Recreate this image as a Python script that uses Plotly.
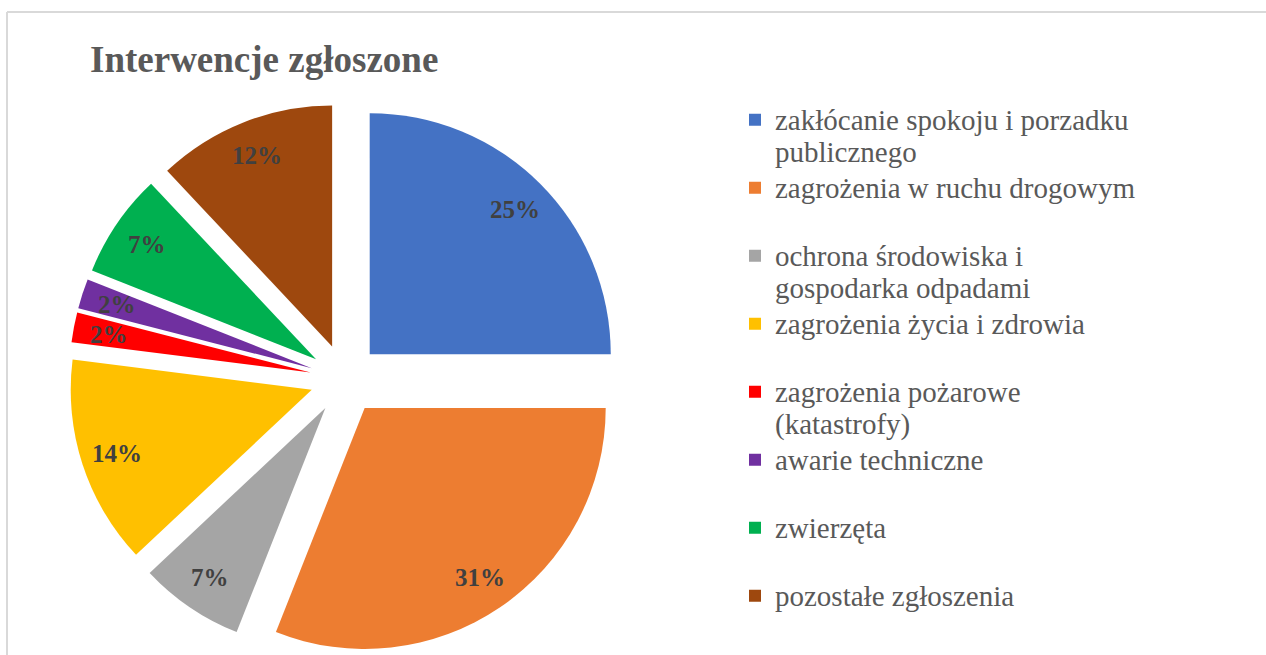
import math
import plotly.graph_objects as go

# data
names = [
    ["zakłócanie spokoju i porzadku", "publicznego"],
    ["zagrożenia w ruchu drogowym"],
    ["ochrona środowiska i", "gospodarka odpadami"],
    ["zagrożenia życia i zdrowia"],
    ["zagrożenia pożarowe", "(katastrofy)"],
    ["awarie techniczne"],
    ["zwierzęta"],
    ["pozostałe zgłoszenia"],
]
values = [25, 31, 7, 14, 2, 2, 7, 12]
colors = ["#4472C4", "#ED7D31", "#A5A5A5", "#FFC000",
          "#FF0000", "#7030A0", "#00B050", "#9E480E"]

W, H = 1266, 655
FONT = "Liberation Serif, Times New Roman, serif"
PULL = 0.145
LABEL_R = 0.85  # label distance from the pulled slice tip, fraction of radius


def legend_label(lines):
    # every entry gets two lines so the legend rows are evenly spaced
    if len(lines) == 1:
        lines = lines + [" "]
    return "<br>".join(f"<span style='font-size:29px'>{s}</span>" for s in lines)


labels = [legend_label(n) for n in names]

# pie box in paper units
dom_x = [68 / W, 622 / W]
dom_y = [0, 1 - 103 / H]

fig = go.Figure(go.Pie(
    labels=labels,
    values=values,
    sort=False,
    direction="clockwise",
    rotation=0,
    pull=[PULL] * len(values),
    marker=dict(colors=colors, line=dict(width=0)),
    textinfo="none",
    domain=dict(x=dom_x, y=dom_y),
    hovertext=[" ".join(n) for n in names],
    hoverinfo="text+percent",
))

# percentage labels placed like the spreadsheet does (near the rim)
w_px = W * (dom_x[1] - dom_x[0])
h_px = H * (dom_y[1] - dom_y[0])
r = min(w_px, h_px) / 2 / (1 + PULL)
cx = W * (dom_x[0] + dom_x[1]) / 2
cy = H * (1 - dom_y[0]) - h_px / 2
total = sum(values)
start = 0.0
for v in values:
    mid = math.radians((start + v / 2) / total * 360)
    start += v
    d = r * (PULL + LABEL_R)
    px = cx + d * math.sin(mid)
    py = cy - d * math.cos(mid)
    fig.add_annotation(
        x=px / W, y=1 - py / H, xref="paper", yref="paper",
        xanchor="center", yanchor="middle",
        text=f"{round(v / total * 100)}%", showarrow=False,
        font=dict(family=FONT, size=25, color="#404040", weight="bold"),
    )

fig.add_shape(type="line", xref="paper", yref="paper",
              x0=7 / W, x1=1, y0=1 - 12 / H, y1=1 - 12 / H,
              line=dict(color="#d9d9d9", width=2))
fig.add_shape(type="line", xref="paper", yref="paper",
              x0=7 / W, x1=7 / W, y0=0, y1=1 - 12 / H,
              line=dict(color="#d9d9d9", width=2))

fig.update_layout(
    width=W,
    height=H,
    margin=dict(l=0, r=0, t=0, b=0),
    paper_bgcolor="white",
    title=dict(
        text="Interwencje zgłoszone",
        x=90 / W, xanchor="left",
        y=1 - 59 / H, yanchor="middle",
        font=dict(family=FONT, size=37, color="#595959", weight="bold"),
    ),
    legend=dict(
        x=735 / W, xanchor="left",
        y=1 - 97 / H, yanchor="top",
        valign="top",
        font=dict(family=FONT, size=25, color="#595959"),
        bgcolor="rgba(0,0,0,0)",
    ),
)

fig.write_html(
    "out.html",
    config={"displayModeBar": False},
    post_script="document.body.style.margin='0';document.body.style.overflow='hidden';",
)
